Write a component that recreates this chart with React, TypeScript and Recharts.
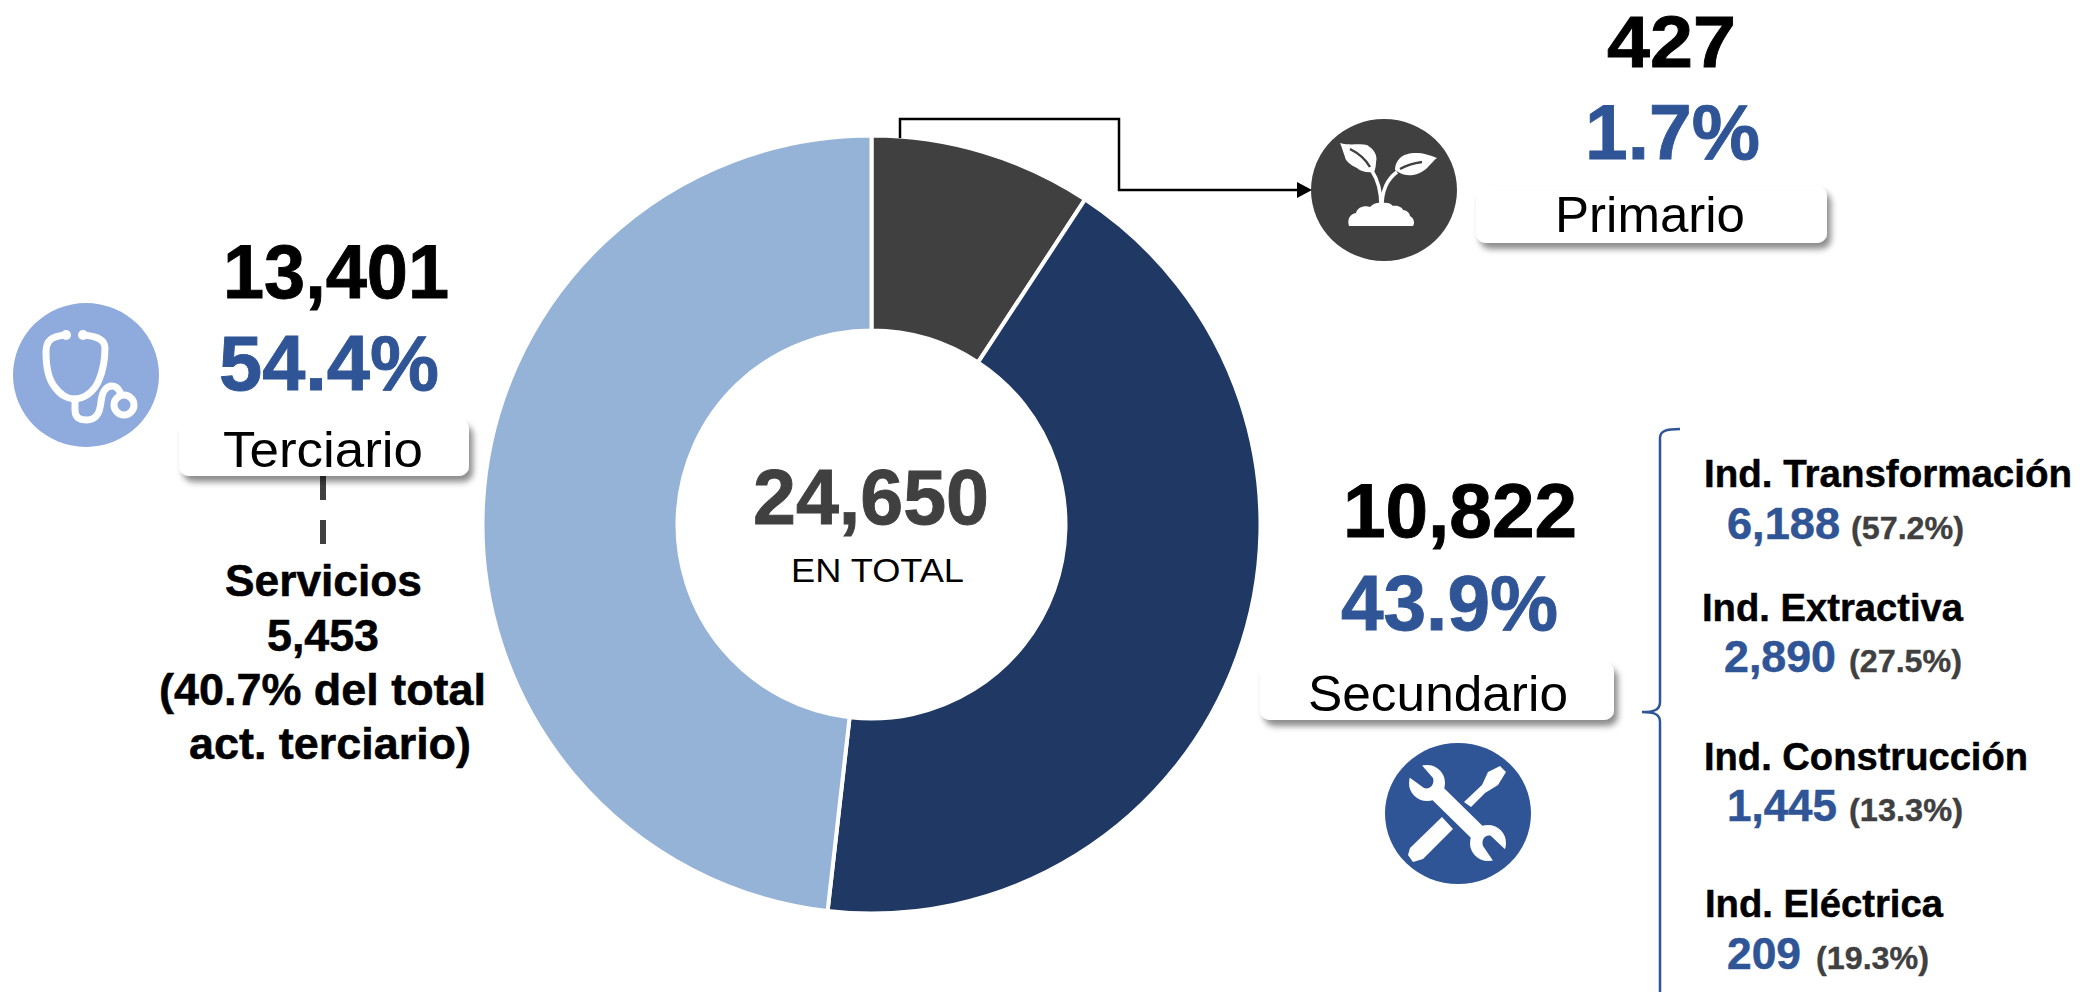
import React from "react";
import { PieChart, Pie, Cell } from "recharts";

// slice sizes as drawn in the ring (percent of the circle)
const sectors = ["Primario", "Secundario", "Terciario"];
const drawnShares = [9.25, 42.55, 48.2];
const sectorColors = ["#404040", "#1F3864", "#95B3D7"];
const totals = ["427", "10,822", "13,401"];
const percents = ["1.7%", "43.9%", "54.4%"];

const industryNames = ["Ind. Transformación", "Ind. Extractiva", "Ind. Construcción", "Ind. Eléctrica"];
const industryValues = ["6,188", "2,890", "1,445", "209"];
const industryShares = ["(57.2%)", "(27.5%)", "(13.3%)", "(19.3%)"];

const serviceLines = ["Servicios", "5,453", "(40.7% del total", "act. terciario)"];

const BLUE = "#2F5597";
const GREY = "#404040";
const FONT = "'Liberation Sans', Arial, sans-serif";

const pieData = sectors.map((name, i) => ({ name, value: drawnShares[i] }));

const T = ({ x, y, w, size, bold, fill = "#000", children }: any) => (
  <text
    x={x}
    y={y}
    fontFamily={FONT}
    fontSize={size}
    fontWeight={bold ? 700 : 400}
    fill={fill}
    stroke={bold ? fill : "none"}
    strokeWidth={bold ? size * 0.012 : 0}
    textLength={w}
    lengthAdjust="spacingAndGlyphs"
  >
    {children}
  </text>
);

const Box = ({ x, y, w, h }: any) => (
  <rect x={x} y={y} width={w} height={h} rx={10} fill="#fff" filter="url(#boxShadow)" />
);

const Stethoscope = () => (
  <g>
    <ellipse cx={86} cy={375} rx={73} ry={72} fill="#8FAADC" />
    <g fill="none" stroke="#fff" strokeWidth={7} strokeLinecap="round">
      <path d="M66 335 C52 336 46 340 46 352 C46 368 48 378 54 386 C60 395 68 399 74 399 C84 399 94 392 99 380 C104 368 105 356 105 348 C105 340 98 336 83 335" />
      <path d="M75 399 L75 410 C75 418 80 420 87 420 C97 420 100 412 101 402 C102 392 106 386 112 386 C116 386 118 388 120 392" />
      <circle cx={124} cy={405} r={10} />
    </g>
    <circle cx={66} cy={335} r={5} fill="#fff" />
    <circle cx={83} cy={335} r={5} fill="#fff" />
  </g>
);

const Sprout = () => (
  <g>
    <ellipse cx={1384} cy={190} rx={73} ry={71} fill={GREY} />
    <g fill="#fff">
      <path d="M1340 143 C1350 146 1360 143 1367 145 C1374 149 1378 156 1376 162 C1376 166 1375 170 1374 172 C1366 173 1360 171 1357 168 C1350 165 1345 160 1345 157 C1343 152 1342 147 1340 143 Z" />
      <path d="M1437 158 C1430 155 1423 153 1417 153 C1408 153 1403 155 1400 158 C1396 162 1395 166 1395 170 C1402 175 1408 176 1413 175 C1420 174 1425 170 1428 167 C1431 164 1434 160 1437 158 Z" />
      <path d="M1349 226 C1347 219 1350 214 1356 213 C1357 208 1364 205 1370 207 C1373 203 1379 202 1382 203 C1386 202 1391 203 1393 206 C1397 205 1402 207 1403 210 C1406 210 1410 213 1410 216 C1414 218 1415 223 1413 226 Z" />
    </g>
    <path
      d="M1381 206 C1381 192 1378 180 1372 171 M1382 206 C1382 192 1386 180 1397 172"
      fill="none"
      stroke="#fff"
      strokeWidth={3.5}
    />
    <path d="M1350 149 C1358 153 1366 160 1370 167 M1400 169 C1407 165 1415 163 1422 162" fill="none" stroke={GREY} strokeWidth={2.5} />
  </g>
);

const Tools = () => (
  <g>
    <ellipse cx={1458} cy={813.5} rx={73} ry={70.5} fill={BLUE} />
    {/* screwdriver */}
    <path d="M1442 817 L1453 829 L1423 859 L1413 862 L1408 855 L1410 848 Z" fill="#fff" />
    <path d="M1464 802 L1471 807 L1485 793 L1498 785 L1506 772 L1500 766 L1488 772 L1482 785 Z" fill="#fff" />
    {/* wrench */}
    <path d="M1432 788 L1483 838" stroke="#fff" strokeWidth={16.5} />
    <circle cx={1427} cy={783} r={18} fill="#fff" />
    <circle cx={1488} cy={843} r={18} fill="#fff" />
    <path d="M1419 762 L1433 778 C1435 784 1430 790 1424 788 L1402 772 Z" fill={BLUE} />
    <path d="M1510 854 L1491 836 C1485 834 1481 840 1483 846 L1498 868 Z" fill={BLUE} />
  </g>
);

export default function App() {
  return (
    <div style={{ position: "absolute", left: 0, top: 0, width: 2080, height: 992, overflow: "hidden", background: "#fff" }}>
      <div style={{ position: "absolute", left: 0, top: 0 }}>
        <PieChart width={2080} height={992} margin={{ top: 0, right: 0, bottom: 0, left: 0 }}>
          <Pie
            data={pieData}
            dataKey="value"
            nameKey="name"
            cx={871.5}
            cy={524.5}
            innerRadius={194}
            outerRadius={389}
            startAngle={90}
            endAngle={-270}
            stroke="#fff"
            strokeWidth={4}
            isAnimationActive={false}
          >
            {pieData.map((entry, index) => (
              <Cell key={`cell-${index}`} fill={sectorColors[index]} />
            ))}
          </Pie>
        </PieChart>
      </div>

      <svg width={2080} height={992} style={{ position: "absolute", left: 0, top: 0 }}>
        <defs>
          <filter id="boxShadow" x="-10%" y="-30%" width="120%" height="170%">
            <feDropShadow dx={4} dy={6} stdDeviation={3} floodColor="#000" floodOpacity={0.45} />
          </filter>
        </defs>

        {/* centre */}
        <T x={753} y={524} w={236} size={77} bold fill={GREY}>24,650</T>
        <T x={791} y={582} w={173} size={34}>EN TOTAL</T>

        {/* primario */}
        <path d="M900 138 L900 119 L1119 119 L1119 190 L1300 190" fill="none" stroke="#000" strokeWidth={2.5} />
        <path d="M1297 182 L1312 190 L1297 198 Z" fill="#000" />
        <Sprout />
        <T x={1607} y={67} w={129} size={73} bold>{totals[0]}</T>
        <T x={1585} y={159} w={175} size={77} bold fill={BLUE}>{percents[0]}</T>
        <Box x={1476} y={186} w={351} h={57} />
        <T x={1555} y={232} w={190} size={50}>{sectors[0]}</T>

        {/* terciario */}
        <Stethoscope />
        <T x={223} y={298} w={226} size={76} bold>{totals[2]}</T>
        <T x={219} y={390} w={220} size={77} bold fill={BLUE}>{percents[2]}</T>
        <path d="M323 476 L323 544" stroke={GREY} strokeWidth={6} strokeDasharray="24 20" />
        <Box x={179} y={419} w={290} h={57} />
        <T x={223} y={467} w={200} size={50}>{sectors[2]}</T>
        <T x={225} y={596} w={197} size={44} bold>{serviceLines[0]}</T>
        <T x={267} y={651} w={112} size={44} bold>{serviceLines[1]}</T>
        <T x={159} y={705} w={327} size={44} bold>{serviceLines[2]}</T>
        <T x={189} y={759} w={282} size={44} bold>{serviceLines[3]}</T>

        {/* secundario */}
        <T x={1343} y={537} w={234} size={76} bold>{totals[1]}</T>
        <T x={1341} y={630} w={217} size={77} bold fill={BLUE}>{percents[1]}</T>
        <Box x={1260} y={662} w={354} h={58} />
        <T x={1308} y={711} w={260} size={50}>{sectors[1]}</T>
        <Tools />
        <path
          d="M1680 429 C1666 429 1660 431 1660 438 L1660 702 C1660 710 1654 712 1642 712 C1654 712 1660 714 1660 722 L1660 1000"
          fill="none"
          stroke={BLUE}
          strokeWidth={2.5}
        />

        {/* industrias */}
        <T x={1704} y={487} w={368} size={38} bold>{industryNames[0]}</T>
        <T x={1727} y={539} w={113} size={44} bold fill={BLUE}>{industryValues[0]}</T>
        <T x={1851} y={539} w={113} size={31} bold fill={GREY}>{industryShares[0]}</T>

        <T x={1702} y={621} w={261} size={38} bold>{industryNames[1]}</T>
        <T x={1724} y={672} w={112} size={44} bold fill={BLUE}>{industryValues[1]}</T>
        <T x={1849} y={672} w={113} size={31} bold fill={GREY}>{industryShares[1]}</T>

        <T x={1704} y={770} w={324} size={38} bold>{industryNames[2]}</T>
        <T x={1727} y={821} w={110} size={44} bold fill={BLUE}>{industryValues[2]}</T>
        <T x={1849} y={821} w={114} size={31} bold fill={GREY}>{industryShares[2]}</T>

        <T x={1705} y={917} w={238} size={38} bold>{industryNames[3]}</T>
        <T x={1727} y={969} w={74} size={44} bold fill={BLUE}>{industryValues[3]}</T>
        <T x={1816} y={969} w={113} size={31} bold fill={GREY}>{industryShares[3]}</T>
      </svg>
    </div>
  );
}
